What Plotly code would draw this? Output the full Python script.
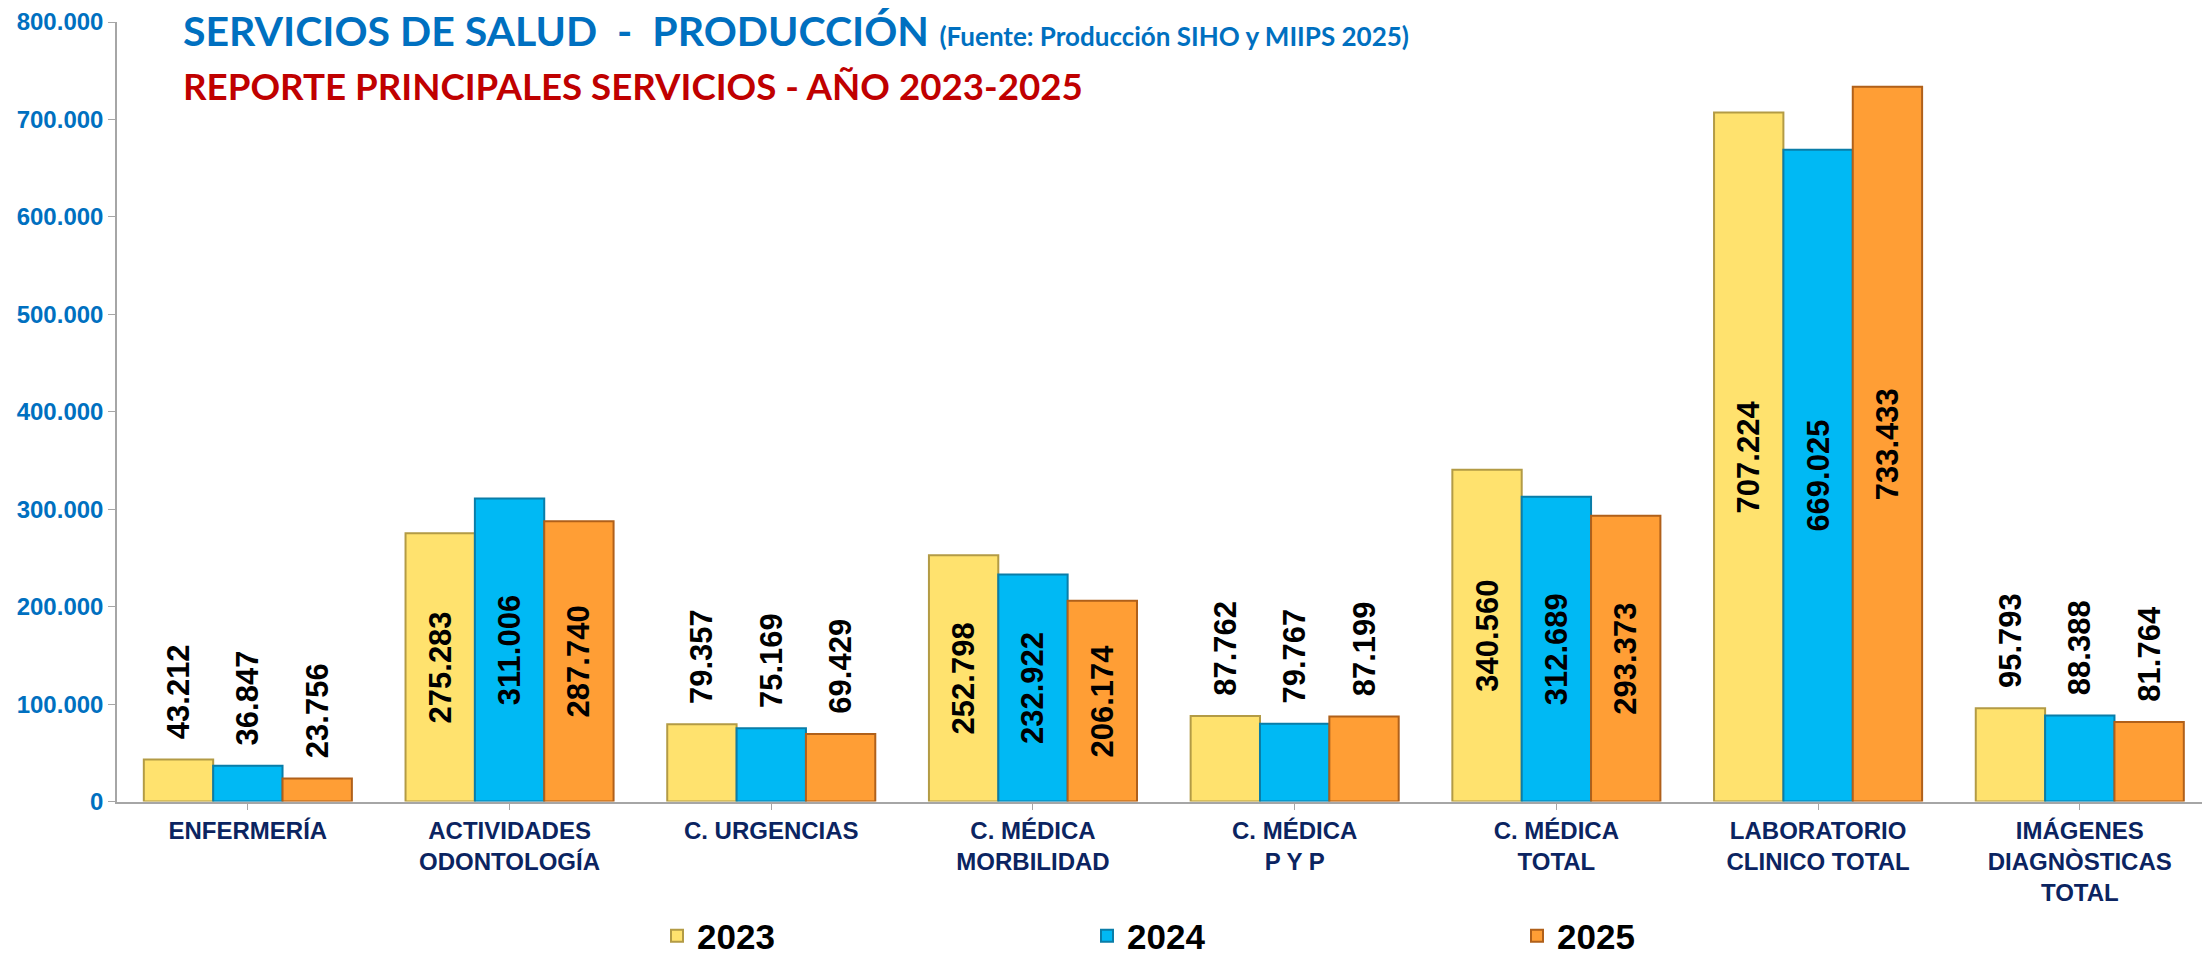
import plotly.graph_objects as go

categories = ["ENFERMERÍA", "ACTIVIDADES<br>ODONTOLOGÍA", "C. URGENCIAS",
              "C. MÉDICA<br>MORBILIDAD", "C. MÉDICA<br>P Y P", "C. MÉDICA<br>TOTAL",
              "LABORATORIO<br>CLINICO TOTAL", "IMÁGENES<br>DIAGNÒSTICAS<br>TOTAL"]
years = ["2023", "2024", "2025"]
v2023 = [43212, 275283, 79357, 252798, 87762, 340560, 707224, 95793]
v2024 = [36847, 311006, 75169, 232922, 79767, 312689, 669025, 88388]
v2025 = [23756, 287740, 69429, 206174, 87199, 293373, 733433, 81764]
label_inside = [False, True, False, True, False, True, True, False]
y_ticks = [0, 100000, 200000, 300000, 400000, 500000, 600000, 700000, 800000]

colors = ["#FFE26E", "#00B9F4", "#FF9E35"]
edges = ["#B39B45", "#0A7DA8", "#B0601A"]

fig = go.Figure()
for name, vals, col, edge in zip(years, [v2023, v2024, v2025], colors, edges):
    fig.add_trace(go.Bar(
        x=list(range(len(categories))), y=vals, name=name,
        marker=dict(color=col, line=dict(color=edge, width=2)),
        texttemplate=["%{y:,.0f}" if f else "\u00a0\u00a0%{y:,.0f}" for f in label_inside],
        textposition=["inside" if f else "outside" for f in label_inside],
        insidetextanchor="middle",
        textangle=-90,
        constraintext="none",
        cliponaxis=False,
        textfont=dict(family="Liberation Sans, Arial", size=31, color="black", weight="bold"),
    ))

fig.update_layout(
    width=2202, height=956,
    margin=dict(l=117, r=0, t=22, b=153),
    paper_bgcolor="white", plot_bgcolor="white",
    separators=",.",
    barmode="group", bargap=0.205, bargroupgap=0,
    showlegend=True,
    legend=dict(orientation="h", xref="container", yref="container",
                x=657 / 2202, y=(956 - 936) / 956, xanchor="left", yanchor="middle",
                entrywidth=385, entrywidthmode="pixels",
                font=dict(family="Liberation Sans, Arial", size=35, color="black", weight="bold"),
                bgcolor="rgba(0,0,0,0)"),
    xaxis=dict(tickmode="array", tickvals=list(range(len(categories))), ticktext=categories,
               range=[-0.5, 7.467], showline=True, linecolor="#A6A6A6", linewidth=1.5,
               ticks="outside", tickson="boundaries", ticklen=7, tickcolor="#A6A6A6",
               showgrid=False, zeroline=False, tickangle=0,
               tickfont=dict(family="Liberation Sans, Arial", size=24, color="#0B2461", weight="bold")),
    yaxis=dict(range=[0, 800000], tickmode="array", tickvals=y_ticks, tickformat=",.0f",
               showline=True, linecolor="#A6A6A6", linewidth=1.5,
               ticks="outside", ticklen=7, tickcolor="#A6A6A6",
               showgrid=False, zeroline=False,
               tickfont=dict(family="Liberation Sans, Arial", size=24, color="#0070C0", weight="bold")),
    annotations=[
        dict(xref="paper", yref="paper", x=(181 - 117) / 2085, y=(803 - 31.5) / 780.5,
             xanchor="left", yanchor="middle", showarrow=False,
             text="<b>SERVICIOS DE SALUD&nbsp;&nbsp;-&nbsp;&nbsp;PRODUCCIÓN</b> "
                  "<span style='font-size:26px'><b>(Fuente: Producción SIHO y MIIPS 2025)</b></span>",
             font=dict(family="Lato", size=41, color="#0070C0")),
        dict(xref="paper", yref="paper", x=(181 - 117) / 2085, y=(803 - 86.5) / 780.5,
             xanchor="left", yanchor="middle", showarrow=False,
             text="<b>REPORTE PRINCIPALES SERVICIOS - AÑO 2023-2025</b>",
             font=dict(family="Lato", size=36.7, color="#C00000")),
    ],
)

fig.write_html("out.html", config={"displayModeBar": False},
               post_script="document.body.style.margin='0';")
